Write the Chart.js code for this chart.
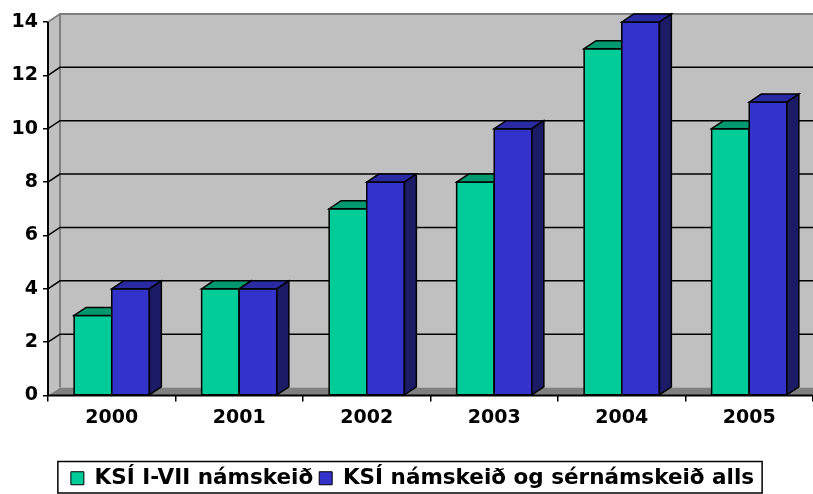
<!DOCTYPE html>
<html>
<head>
<meta charset="utf-8">
<script src="https://cdn.jsdelivr.net/npm/chart.js@4.4.1/dist/chart.umd.min.js"></script>
<style>
  html, body { margin: 0; padding: 0; background: #fff; overflow: hidden; }
  #wrap { width: 813px; height: 494px; }
</style>
</head>
<body>
<div id="wrap"><canvas id="chart"></canvas></div>
<script>
// Data
const years = ['2000', '2001', '2002', '2003', '2004', '2005'];
const ksiCourses = [3, 4, 7, 8, 13, 10];
const ksiAllCourses = [4, 4, 8, 10, 14, 11];
const seriesNames = ['KSÍ I-VII námskeið', 'KSÍ námskeið og sérnámskeið alls'];

// Colours: front face, top face, side face
const FACES = [
  { front: '#00cc99', top: '#00996f', side: '#006a4f' },
  { front: '#3333cc', top: '#2a2aa3', side: '#1c1c66' },
];
const WALL = '#c0c0c0';
const WALL_EDGE = '#808080';
const FLOOR = '#808080';
const DEPTH_X = 12;
const DEPTH_Y = -8;
const FONT = { family: '"DejaVu Sans", Verdana, sans-serif', size: 19, weight: 'bold' };
const LEGEND_FONT = { family: '"DejaVu Sans", Verdana, sans-serif', size: 21.5, weight: 'bold' };

function poly(ctx, pts, fill, stroke, lw) {
  ctx.beginPath();
  ctx.moveTo(pts[0][0], pts[0][1]);
  for (let i = 1; i < pts.length; i++) ctx.lineTo(pts[i][0], pts[i][1]);
  ctx.closePath();
  if (fill) { ctx.fillStyle = fill; ctx.fill(); }
  if (stroke) { ctx.strokeStyle = stroke; ctx.lineWidth = lw || 1; ctx.stroke(); }
}

// Back wall, side wall, floor and gridlines of the 3D box
const wallsPlugin = {
  id: 'walls',
  beforeDatasetsDraw(chart) {
    const { ctx, chartArea: { left, right, top, bottom } } = chart;
    const yScale = chart.scales.y;
    ctx.save();
    // side wall
    poly(ctx, [[left, top], [left + DEPTH_X, top + DEPTH_Y], [left + DEPTH_X, bottom + DEPTH_Y], [left, bottom]], WALL);
    // back wall
    ctx.fillStyle = WALL;
    ctx.fillRect(left + DEPTH_X, top + DEPTH_Y, right - left, bottom - top);
    // floor
    poly(ctx, [[left, bottom], [left + DEPTH_X, bottom + DEPTH_Y], [right + DEPTH_X, bottom + DEPTH_Y], [right, bottom]], FLOOR);
    // wall edges
    ctx.strokeStyle = WALL_EDGE;
    ctx.lineWidth = 2;
    ctx.beginPath();
    ctx.moveTo(left + DEPTH_X, bottom + DEPTH_Y);
    ctx.lineTo(left + DEPTH_X, top + DEPTH_Y);
    ctx.lineTo(right + DEPTH_X, top + DEPTH_Y);
    ctx.moveTo(left, top);
    ctx.lineTo(left + DEPTH_X, top + DEPTH_Y);
    ctx.stroke();
    // gridlines on the side and back walls
    ctx.strokeStyle = '#000';
    ctx.lineWidth = 1.5;
    yScale.ticks.forEach(t => {
      if (t.value <= yScale.min || t.value >= yScale.max) return;
      const py = yScale.getPixelForValue(t.value);
      ctx.beginPath();
      ctx.moveTo(left, py);
      ctx.lineTo(left + DEPTH_X, py + DEPTH_Y);
      ctx.lineTo(right + DEPTH_X, py + DEPTH_Y);
      ctx.stroke();
    });
    ctx.restore();
  },
  afterDatasetsDraw(chart) {
    const { ctx, chartArea: { left, right, top, bottom } } = chart;
    ctx.save();
    ctx.lineJoin = 'miter';
    const n = chart.data.labels.length;
    for (let i = 0; i < n; i++) {
      chart.data.datasets.forEach((ds, d) => {
        const bar = chart.getDatasetMeta(d).data[i];
        const { x, y, width, base } = bar.getProps(['x', 'y', 'width', 'base'], true);
        const l = x - width / 2, r = x + width / 2;
        const f = FACES[d];
        poly(ctx, [[l, y], [r, y], [r, base], [l, base]], f.front, '#000', 1.5);
        poly(ctx, [[l, y], [l + DEPTH_X, y + DEPTH_Y], [r + DEPTH_X, y + DEPTH_Y], [r, y]], f.top, '#000', 1.5);
        poly(ctx, [[r, y], [r + DEPTH_X, y + DEPTH_Y], [r + DEPTH_X, base + DEPTH_Y], [r, base]], f.side, '#000', 1.5);
      });
    }
    // front axis lines
    ctx.strokeStyle = '#000';
    ctx.lineWidth = 2;
    ctx.beginPath();
    ctx.moveTo(left, top);
    ctx.lineTo(left, bottom);
    ctx.lineTo(right, bottom);
    ctx.stroke();
    ctx.restore();
  },
  afterDraw(chart) {
    // border around the legend
    const boxes = chart.legend.legendHitBoxes;
    if (!boxes || !boxes.length) return;
    const first = boxes[0], last = boxes[boxes.length - 1];
    const { ctx } = chart;
    ctx.save();
    ctx.strokeStyle = '#000';
    ctx.lineWidth = 1.5;
    const x0 = first.left - 13, x1 = last.left + last.width + 8;
    const y0 = first.top - 6, y1 = first.top + first.height + 4;
    ctx.strokeRect(x0, y0, x1 - x0, y1 - y0);
    ctx.restore();
  }
};

const ctx = document.getElementById('chart').getContext('2d');
new Chart(ctx, {
  type: 'bar',
  data: {
    labels: years,
    datasets: [
      { label: seriesNames[0], data: ksiCourses, backgroundColor: FACES[0].front, borderColor: '#000', borderWidth: 1 },
      { label: seriesNames[1], data: ksiAllCourses, backgroundColor: FACES[1].front, borderColor: '#000', borderWidth: 1 },
    ],
  },
  options: {
    responsive: true,
    maintainAspectRatio: false,
    animation: false,
    layout: { padding: { top: 22, right: 0, left: 12, bottom: -5 } },
    datasets: { bar: { categoryPercentage: 0.59, barPercentage: 1 } },
    plugins: {
      tooltip: { enabled: false },
      legend: {
        position: 'bottom',
        labels: {
          color: '#000',
          font: LEGEND_FONT,
          boxWidth: 13,
          boxHeight: 13,
          padding: 6,
          generateLabels(chart) {
            return chart.data.datasets.map((ds, i) => ({
              text: ds.label,
              fillStyle: FACES[i].front,
              strokeStyle: '#000',
              lineWidth: 1,
              datasetIndex: i,
              fontColor: '#000',
            }));
          },
        },
      },
    },
    scales: {
      x: {
        grid: { offset: true, drawOnChartArea: false, tickLength: 6, color: '#000', lineWidth: 1.5 },
        border: { display: false },
        ticks: { color: '#000', font: FONT, padding: 5 },
        afterFit(scale) { scale.height = 66; },
      },
      y: {
        min: 0,
        max: 14,
        grid: { drawOnChartArea: false, tickLength: 5, color: '#000', lineWidth: 1.5 },
        border: { display: false },
        ticks: { stepSize: 2, color: '#000', font: FONT, padding: 5 },
        afterFit(scale) { scale.width = 36; },
      },
    },
  },
  plugins: [wallsPlugin],
});
</script>
</body>
</html>
